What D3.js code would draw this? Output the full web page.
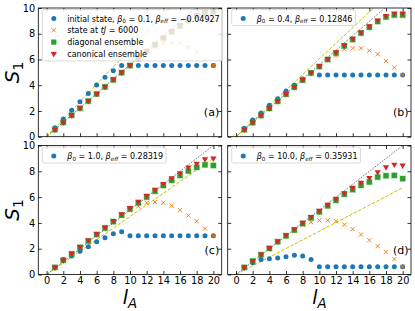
<!DOCTYPE html>
<html><head><meta charset="utf-8">
<script src="https://cdn.jsdelivr.net/npm/d3@7"></script>
<style>body{margin:0;background:#fff}svg{display:block;font-family:"DejaVu Sans",sans-serif}</style>
</head><body><svg id="c" width="415" height="311"></svg>
<script>
// ---- data ----
const lA = [1,2,3,4,5,6,7,8,9,10,11,12,13,14,15,16,17,18,19,20];
const xTicks = [0,2,4,6,8,10,12,14,16,18,20];
const yTicks = [0,2,4,6,8,10];
const panelTags = ["(a)","(b)","(c)","(d)"];

const initA  = [0.70,1.37,2.05,2.72,3.35,4.02,4.62,5.12,5.53,5.53,5.53,5.53,5.53,5.53,5.53,5.53,5.53,5.53,5.53,5.53];
const stateA = [0.55,1.11,1.66,2.21,2.77,3.32,3.87,4.42,4.98,5.52,6.05,6.55,7.0,7.25,7.3,7.25,6.95,6.6,6.05,5.53];
const diagA  = [0.55,1.11,1.66,2.21,2.77,3.32,3.87,4.42,4.98,5.53,6.08,6.62,7.15,7.66,8.15,8.6,9.02,9.38,9.62,9.7];
const canA   = [0.56,1.12,1.68,2.23,2.79,3.34,3.9,4.45,5.0,5.56,6.1,6.65,7.2,7.72,8.22,8.7,9.12,9.45,9.72,9.78];

const initB  = [0.65,1.3,1.85,2.44,2.95,3.55,4.0,4.49,4.95,4.8,4.8,4.8,4.8,4.8,4.8,4.8,4.8,4.8,4.8,4.8];
const stateB = [0.55,1.1,1.65,2.2,2.75,3.3,3.85,4.4,4.95,5.45,5.95,6.3,6.8,6.87,6.87,6.69,6.41,5.89,5.37,4.8];
const diagB  = [0.55,1.1,1.65,2.2,2.75,3.3,3.85,4.4,4.95,5.45,6.0,6.5,7.05,7.55,8.05,8.5,8.95,9.3,9.45,9.45];
const canB   = [0.56,1.12,1.67,2.22,2.78,3.33,3.88,4.43,4.98,5.5,6.05,6.58,7.12,7.62,8.12,8.6,9.05,9.4,9.58,9.58];

const initC  = [0.55,1.17,1.43,1.81,2.15,2.54,2.84,3.15,3.31,3.0,3.0,3.0,3.0,3.0,3.0,3.0,3.0,3.0,3.0,3.0];
const stateC = [0.55,1.1,1.6,2.1,2.6,3.1,3.6,4.1,4.55,4.98,5.29,5.55,5.62,5.57,5.34,4.98,4.57,4.13,3.56,3.0];
const diagC  = [0.55,1.1,1.6,2.1,2.6,3.1,3.6,4.1,4.6,5.08,5.55,6.0,6.45,6.9,7.3,7.68,8.02,8.3,8.5,8.45];
const canC   = [0.56,1.12,1.63,2.14,2.65,3.15,3.66,4.17,4.68,5.17,5.65,6.12,6.58,7.04,7.48,7.87,8.3,8.6,8.95,9.0];

const initD  = [0.55,0.91,1.17,1.22,1.27,1.38,1.5,1.43,1.17,0.6,0.6,0.6,0.6,0.6,0.6,0.6,0.6,0.6,0.6,0.6];
const stateD = [0.55,1.04,1.53,2.02,2.54,3.0,3.44,3.85,4.05,4.2,4.2,4.13,3.87,3.51,3.1,2.66,2.2,1.76,1.2,0.6];
const diagD  = [0.55,1.04,1.53,2.02,2.54,3.0,3.44,3.95,4.39,4.85,5.32,5.75,6.22,6.58,6.91,7.17,7.55,7.66,7.68,7.43];
const canD   = [0.56,1.06,1.56,2.06,2.58,3.06,3.52,4.02,4.48,4.95,5.42,5.88,6.32,6.73,7.12,7.5,7.94,8.33,8.53,8.46];

// reference lines S = slope * l
const blackSlope  = [0.56, 0.56, 0.5, 0.5];
const yellowSlope = [0.68, 0.605, 0.45, 0.336];

const beta0   = ["0.1","0.4","1.0","10.0"];
const betaEff = ["\u22120.04927","0.12846","0.28319","0.35931"];

// ---- layout ----
const svg = d3.select("#c");
const cols = [{x0:38.3,x1:221.7},{x0:227.7,x1:411}];
const rows = [{y0:8,y1:136.7},{y0:145.5,y1:274.5}];
const C = {blue:"#1f77b4",orange:"#ff7f0e",green:"#2ca02c",red:"#d62728",yellow:"#c4c400"};

const seriesSets = [
  [initA,stateA,diagA,canA],[initB,stateB,diagB,canB],
  [initC,stateC,diagC,canC],[initD,stateD,diagD,canD]];

// rich text helper: segments {t, it, sub}
function rich(sel, segs, fs){
  let inSub=false;
  segs.forEach(s=>{
    const ts = sel.append("tspan").text(s.t);
    if(s.it) ts.attr("font-style","italic");
    if(s.sub && !inSub){ ts.attr("dy", (0.22*fs).toFixed(2)); inSub=true; }
    else if(!s.sub && inSub){ ts.attr("dy", (-0.22*fs).toFixed(2)); inSub=false; }
    if(s.sub) ts.attr("font-size", (fs*0.7).toFixed(2));
  });
}
function betaSegs(i){
  return [{t:"\u03b2",it:1},{t:"0",sub:1},{t:" = "+beta0[i]+", "},{t:"\u03b2",it:1},{t:"eff",it:1,sub:1},{t:" = "+betaEff[i]}];
}

const triangle = d3.symbol().type(d3.symbolTriangle).size(17);

for(let p=0;p<4;p++){
  const c = cols[p%2], r = rows[Math.floor(p/2)];
  const x = d3.scaleLinear().domain([-1,21]).range([c.x0,c.x1]);
  const y = d3.scaleLinear().domain([0,10]).range([r.y1,r.y0]);
  const g = svg.append("g");
  const cid = "clip"+p;
  svg.append("clipPath").attr("id",cid).append("rect")
    .attr("x",c.x0).attr("y",r.y0).attr("width",c.x1-c.x0).attr("height",r.y1-r.y0);
  const plot = g.append("g").attr("clip-path",`url(#${cid})`);

  // reference lines
  const lineGen = d3.line().x(d=>x(d[0])).y(d=>y(d[1]));
  plot.append("path").datum([[0,0],[20,20*yellowSlope[p]]]).attr("d",lineGen)
    .attr("fill","none").attr("stroke",C.yellow).attr("stroke-width",1).attr("stroke-dasharray","3.5,1.6");
  plot.append("path").datum([[0,0],[20,20*blackSlope[p]]]).attr("d",lineGen)
    .attr("fill","none").attr("stroke","#000").attr("stroke-width",0.8).attr("stroke-dasharray","0.8,1.4");

  const [ini,st,dg,cn] = seriesSets[p];
  // initial state: blue circles
  plot.selectAll(".b").data(lA.map((l,i)=>[l,ini[i]])).join("circle")
    .attr("cx",d=>x(d[0])).attr("cy",d=>y(d[1])).attr("r",2.5).attr("fill",C.blue);
  // state at tJ=6000: orange x
  plot.selectAll(".o").data(lA.map((l,i)=>[l,st[i]])).join("path")
    .attr("d",d=>{const X=x(d[0]),Y=y(d[1]),h=2.1;return `M${X-h},${Y-h}L${X+h},${Y+h}M${X-h},${Y+h}L${X+h},${Y-h}`;})
    .attr("stroke",C.orange).attr("stroke-width",1).attr("fill","none");
  // diagonal ensemble: green squares
  plot.selectAll(".g").data(lA.map((l,i)=>[l,dg[i]])).join("rect")
    .attr("x",d=>x(d[0])-2.6).attr("y",d=>y(d[1])-2.6).attr("width",5.2).attr("height",5.2)
    .attr("fill",C.green).attr("stroke","rgba(44,160,44,0.35)").attr("stroke-width",1.2);
  // canonical ensemble: red down triangles
  plot.selectAll(".r").data(lA.map((l,i)=>[l,cn[i]])).join("path")
    .attr("d",triangle).attr("transform",d=>`translate(${x(d[0])},${y(d[1])}) rotate(180)`)
    .attr("fill",C.red);

  // frame
  g.append("rect").attr("x",c.x0).attr("y",r.y0).attr("width",c.x1-c.x0).attr("height",r.y1-r.y0)
    .attr("fill","none").attr("stroke","#000").attr("stroke-width",0.8);

  // axes with inward ticks on all sides
  const showX = p>=2, showY = p%2===0;
  const styleAx = a=>{a.select(".domain").remove();a.selectAll("line").attr("stroke","#000").attr("stroke-width",0.8);
    a.selectAll("text").attr("font-size",9.8).attr("font-family","DejaVu Sans").attr("fill","#000");};
  g.append("g").attr("transform",`translate(0,${r.y1})`)
    .call(d3.axisBottom(x).tickValues(xTicks).tickSize(-3.5).tickPadding(2.5).tickFormat(showX?d3.format("d"):()=>""))
    .call(styleAx);
  g.append("g").attr("transform",`translate(0,${r.y0})`)
    .call(d3.axisTop(x).tickValues(xTicks).tickSize(-3.5).tickFormat(()=>"")).call(styleAx);
  g.append("g").attr("transform",`translate(${c.x0},0)`)
    .call(d3.axisLeft(y).tickValues(yTicks).tickSize(-3.5).tickPadding(3).tickFormat(showY?d3.format("d"):()=>""))
    .call(styleAx);
  g.append("g").attr("transform",`translate(${c.x1},0)`)
    .call(d3.axisRight(y).tickValues(yTicks).tickSize(-3.5).tickFormat(()=>"")).call(styleAx);

  // panel tag
  g.append("text").attr("x",c.x1-2.5).attr("y",r.y0+108).attr("text-anchor","end")
    .attr("font-size",11).text(panelTags[p]);

  // legend
  const lg = g.append("g");
  const lx = c.x0+4, ly = r.y0+1.5;
  const entries = p===0 ? [
      {m:"b",segs:[{t:"initial state, "}].concat(betaSegs(0))},
      {m:"o",segs:[{t:"state at "},{t:"tJ",it:1},{t:" = 6000"}]},
      {m:"g",segs:[{t:"diagonal ensemble"}]},
      {m:"r",segs:[{t:"canonical ensemble"}]}]
    : [{m:"b",segs:betaSegs(p)}];
  const box = lg.append("rect").attr("x",lx).attr("y",ly).attr("rx",2).attr("ry",2)
    .attr("fill","rgba(255,255,255,0.8)").attr("stroke","#d0d0d0").attr("stroke-width",0.8);
  let maxW=0;
  entries.forEach((e,i)=>{
    const yy = r.y0+10.5+i*11.8, mx=c.x0+15.5;
    if(e.m==="b") lg.append("circle").attr("cx",mx).attr("cy",yy).attr("r",2.5).attr("fill",C.blue);
    if(e.m==="o") lg.append("path").attr("d",`M${mx-2.1},${yy-2.1}L${mx+2.1},${yy+2.1}M${mx-2.1},${yy+2.1}L${mx+2.1},${yy-2.1}`).attr("stroke",C.orange).attr("stroke-width",1);
    if(e.m==="g") lg.append("rect").attr("x",mx-2.6).attr("y",yy-2.6).attr("width",5.2).attr("height",5.2).attr("fill",C.green);
    if(e.m==="r") lg.append("path").attr("d",triangle).attr("transform",`translate(${mx},${yy}) rotate(180)`).attr("fill",C.red);
    const t = lg.append("text").attr("x",c.x0+29).attr("y",yy+3).attr("font-size",8);
    rich(t,e.segs,8);
    maxW = Math.max(maxW,t.node().getComputedTextLength());
  });
  box.attr("width",(c.x0+29+maxW+3)-lx).attr("height",9+(entries.length-1)*11.8+7);
}

// axis labels
function yLabel(cy){
  const t = svg.append("text").attr("transform",`translate(19,${cy}) rotate(-90)`)
    .attr("text-anchor","middle").attr("font-size",20);
  rich(t,[{t:"S",it:1},{t:"1",sub:1}],20);
}
yLabel((rows[0].y0+rows[0].y1)/2);
yLabel((rows[1].y0+rows[1].y1)/2);
function xLabel(cx){
  const t = svg.append("text").attr("x",cx).attr("y",304).attr("text-anchor","middle").attr("font-size",19);
  rich(t,[{t:"l",it:1},{t:"A",it:1,sub:1}],19);
}
xLabel((cols[0].x0+cols[0].x1)/2);
xLabel((cols[1].x0+cols[1].x1)/2);
</script></body></html>
